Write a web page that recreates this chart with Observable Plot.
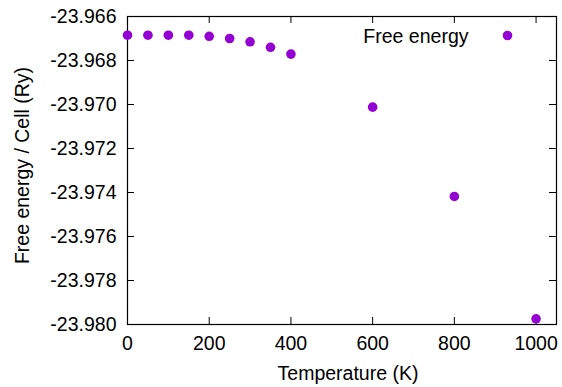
<!DOCTYPE html>
<html>
<head>
<meta charset="utf-8">
<script src="https://cdn.jsdelivr.net/npm/d3@7"></script>
<script src="https://cdn.jsdelivr.net/npm/@observablehq/plot@0.6"></script>
<style>
  html, body { margin: 0; padding: 0; background: #fff; }
  #chart svg { display: block; }
</style>
</head>
<body>
<div id="chart"></div>
<script>
const temperature = [0, 50, 100, 150, 200, 250, 300, 350, 400, 600, 800, 1000];
const freeEnergy = [-23.96685, -23.96685, -23.96685, -23.96685, -23.96690, -23.96700, -23.96715, -23.96740, -23.96771, -23.97012, -23.97418, -23.97974];
const xTicks = [0, 200, 400, 600, 800, 1000];
const yTicks = [-23.980, -23.978, -23.976, -23.974, -23.972, -23.970, -23.968, -23.966];
const seriesName = "Free energy";
const xLabel = "Temperature (K)";
const yLabel = "Free energy / Cell (Ry)";

const data = temperature.map((t, i) => ({t, e: freeEnergy[i]}));

const W = 562, H = 387;
const mL = 127, mR = 6, mT = 16, mB = 63;
const innerW = W - mL - mR, innerH = H - mT - mB;
const tickLen = 7;
const color = "#9400d3";
const font = "'Liberation Sans', Arial, sans-serif";

const chart = Plot.plot({
  width: W,
  height: H,
  marginLeft: mL,
  marginRight: mR,
  marginTop: mT,
  marginBottom: mB,
  style: {fontFamily: font, fontSize: "19.5px", color: "#000", background: "#fff"},
  x: {domain: [0, 1050], label: null},
  y: {domain: [-23.980, -23.966], label: null},
  marks: [
    // inward ticks, bottom and top
    Plot.gridX(xTicks, {insetTop: innerH - tickLen, stroke: "#000", strokeOpacity: 1, strokeWidth: 1}),
    Plot.gridX(xTicks, {insetBottom: innerH - tickLen, stroke: "#000", strokeOpacity: 1, strokeWidth: 1}),
    // inward ticks, left and right
    Plot.gridY(yTicks, {insetRight: innerW - tickLen, stroke: "#000", strokeOpacity: 1, strokeWidth: 1}),
    Plot.gridY(yTicks, {insetLeft: innerW - tickLen, stroke: "#000", strokeOpacity: 1, strokeWidth: 1}),
    Plot.axisX(xTicks, {tickSize: 0, tickPadding: 12, tickFormat: d => String(d), label: null, fontSize: 19.5}),
    Plot.axisY(yTicks, {tickSize: 0, tickPadding: 11, tickFormat: d => d.toFixed(3), label: null, fontSize: 19.5}),
    Plot.frame({stroke: "#000", strokeWidth: 1.2}),
    Plot.dot(data, {x: "t", y: "e", r: 4.8, fill: color, stroke: null}),
    // legend
    Plot.text([seriesName], {frameAnchor: "top-right", dx: -88, dy: 20, textAnchor: "end", lineAnchor: "middle", fontSize: 19.5, fill: "#000"}),
    Plot.dot([seriesName], {frameAnchor: "top-right", dx: -49, dy: 19, r: 4.8, fill: color}),
    // axis titles
    Plot.text([xLabel], {frameAnchor: "bottom", dx: 6, dy: 55, fontSize: 19.5, fill: "#000"}),
    Plot.text([yLabel], {frameAnchor: "left", dx: -105, dy: -5, rotate: -90, textAnchor: "middle", fontSize: 19.5, fill: "#000"})
  ]
});
document.getElementById("chart").appendChild(chart);
</script>
</body>
</html>
